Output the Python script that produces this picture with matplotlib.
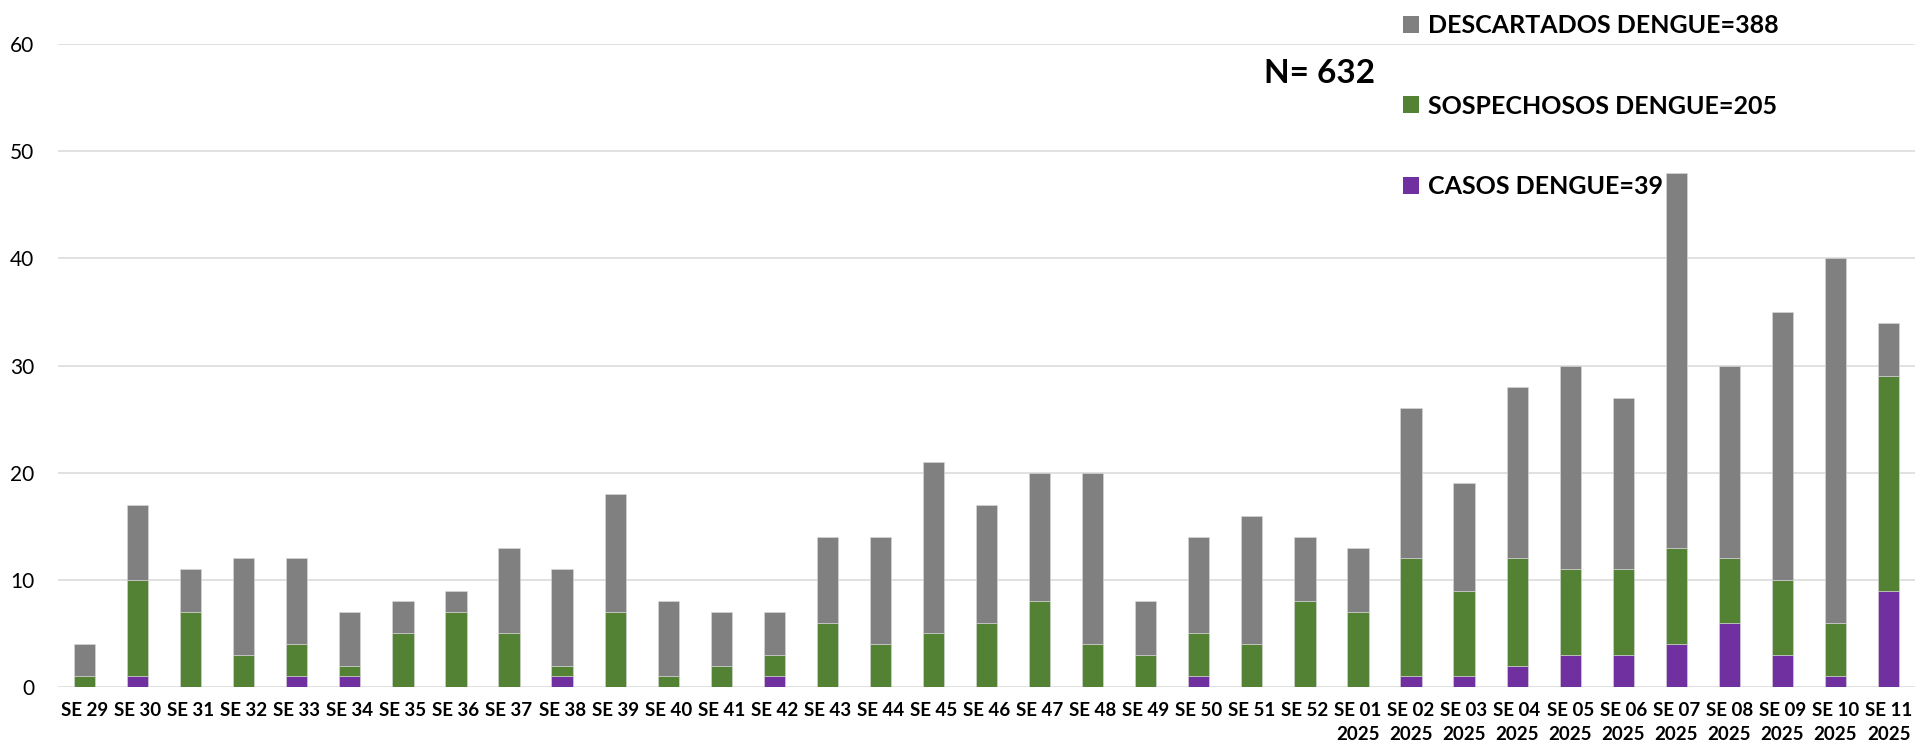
# -*- coding: utf8 -*-
"""
Casos, sospechosos y descartados de dengue por semana epidemiologica
SE 29 (2024) a SE 11 (2025), barras apiladas
"""
import numpy as np
import matplotlib.pyplot as plt
import matplotlib as mpl

semanas = ['SE 29', 'SE 30', 'SE 31', 'SE 32', 'SE 33', 'SE 34', 'SE 35',
           'SE 36', 'SE 37', 'SE 38', 'SE 39', 'SE 40', 'SE 41', 'SE 42',
           'SE 43', 'SE 44', 'SE 45', 'SE 46', 'SE 47', 'SE 48', 'SE 49',
           'SE 50', 'SE 51', 'SE 52',
           'SE 01\n2025', 'SE 02\n2025', 'SE 03\n2025', 'SE 04\n2025',
           'SE 05\n2025', 'SE 06\n2025', 'SE 07\n2025', 'SE 08\n2025',
           'SE 09\n2025', 'SE 10\n2025', 'SE 11\n2025']

casos = [0, 1, 0, 0, 1, 1, 0, 0, 0, 1, 0, 0, 0, 1, 0, 0, 0, 0, 0, 0, 0,
         1, 0, 0, 0, 1, 1, 2, 3, 3, 4, 6, 3, 1, 9]
sospechosos = [1, 9, 7, 3, 3, 1, 5, 7, 5, 1, 7, 1, 2, 2, 6, 4, 5, 6, 8, 4, 3,
               4, 4, 8, 7, 11, 8, 10, 8, 8, 9, 6, 7, 5, 20]
descartados = [3, 7, 4, 9, 8, 5, 3, 2, 8, 9, 11, 7, 5, 4, 8, 10, 16, 11, 12, 16, 5,
               9, 12, 6, 6, 14, 10, 16, 19, 16, 35, 18, 25, 34, 5]


def main():
    mpl.rcParams['font.family'] = ['Lato', 'DejaVu Sans']

    x = np.arange(len(semanas))
    c = np.array(casos)
    s = np.array(sospechosos)
    d = np.array(descartados)

    fig = plt.figure(figsize=(19.16, 7.51), dpi=100)
    ax = fig.add_axes([0.0303, 0.0852, 0.9692, 0.8562])

    w = 0.4
    b1 = ax.bar(x, c, w, color='#7030A0', edgecolor='#d9d9d9', lw=0.4,
                label=f'CASOS DENGUE={c.sum()}')
    b2 = ax.bar(x, s, w, bottom=c, color='#548235', edgecolor='#d9d9d9', lw=0.4,
                label=f'SOSPECHOSOS DENGUE={s.sum()}')
    b3 = ax.bar(x, d, w, bottom=c + s, color='#808080', edgecolor='#d9d9d9', lw=0.4,
                label=f'DESCARTADOS DENGUE={d.sum()}')

    ax.set_xlim(-0.5, len(semanas) - 0.5)
    ax.set_ylim(0, 60)
    ax.set_yticks(np.arange(0, 61, 10))
    ax.set_xticks(x)
    ax.set_xticklabels(semanas, fontsize=13.5, fontweight='bold', linespacing=1.45)
    ax.tick_params(axis='x', length=0, pad=11)
    ax.tick_params(axis='y', length=0, pad=17, labelsize=15)
    for sp in ax.spines.values():
        sp.set_visible(False)
    ax.grid(axis='y', color='#d9d9d9', lw=1.1)
    ax.set_axisbelow(True)

    leg = ax.legend(handles=[b3, b2, b1], loc='upper left',
                    bbox_to_anchor=(1403 / 1916, 1 - 14 / 751),
                    bbox_transform=fig.transFigure, frameon=False,
                    prop={'size': 18, 'weight': 'bold'},
                    handlelength=0.65, handleheight=0.65, handletextpad=0.35,
                    labelspacing=2.3, borderpad=0, borderaxespad=0)
    for h in leg.legend_handles:
        h.set_linewidth(0)

    total = c.sum() + s.sum() + d.sum()
    fig.text(0.6885, 0.9015, f'N= {total}', fontsize=24, fontweight='bold',
             ha='center', va='center')

    plt.savefig('out.png', dpi=100)


if __name__ == '__main__':
    main()
